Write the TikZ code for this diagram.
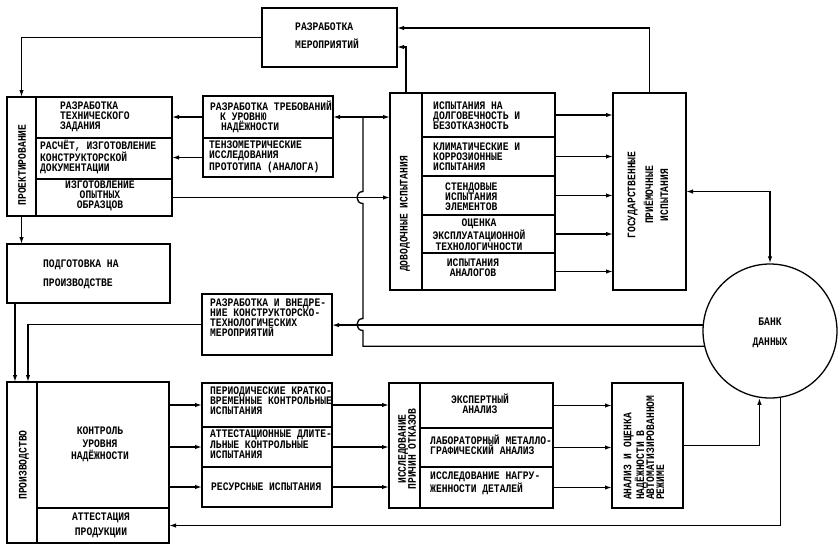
\documentclass[tikz,border=0pt]{standalone}
\usepackage{fontspec}
\newfontfamily\twfont[FakeStretch=0.84]{Liberation Mono}
\usetikzlibrary{arrows.meta,calc}
\newcommand\bx[5]{\node[bxs,minimum width={#4pt-#2pt},minimum height={#5pt-#3pt}] (#1) at (#2,#3) {};}
\begin{document}
\begin{tikzpicture}[x=1pt,y=-1pt,
  bxs/.style={draw,line width=1.3pt,inner sep=0pt,outer sep=0pt,anchor=north west},
  tx/.style={font={\twfont\bfseries\fontsize{11.5}{10}\selectfont},inner sep=0pt,align=left,anchor=west},
  tc/.style={tx,align=center,anchor=center},
  ln/.style={line width=1.3pt},
  ar/.style={ln,-{Latex[length=7pt,width=4.4pt]}},
  dar/.style={ln,{Latex[length=7pt,width=4.4pt]}-{Latex[length=7pt,width=4.4pt]}}]
\useasboundingbox[fill=white] (0,0) rectangle (840,550);
% boxes
\bx{mer}{262}{8}{397}{67}
\bx{projL}{7}{97}{36}{216}
\bx{pr1}{36}{97}{172}{138}
\bx{pr2}{36}{138}{172}{179}
\bx{pr3}{36}{179}{172}{216}
\bx{m1}{203}{96}{333}{138}
\bx{m2}{203}{138}{333}{177}
\bx{dovL}{390}{93}{422}{290}
\bx{d1}{422}{93}{555}{137}
\bx{d2}{422}{137}{555}{176}
\bx{d3}{422}{176}{555}{215}
\bx{d4}{422}{215}{555}{253}
\bx{d5}{422}{253}{555}{290}
\bx{gos}{613}{93}{686}{290}
\bx{podg}{7}{244}{170}{303}
\bx{rv}{202}{294}{332}{355}
\bx{prL}{7}{382}{37}{543}
\bx{p1}{37}{382}{169}{508}
\bx{p2}{37}{508}{169}{543}
\bx{b1}{202}{383}{332}{427}
\bx{b2}{202}{427}{332}{467}
\bx{b3}{202}{467}{332}{507}
\bx{iL}{389}{383}{420}{508}
\bx{i1}{420}{383}{553}{428}
\bx{i2}{420}{428}{553}{467}
\bx{i3}{420}{467}{553}{508}
\bx{anal}{612}{383}{683}{508}
\node[draw,circle,line width=1.3pt,minimum size=134pt,inner sep=0pt] (bank) at (770,331) {};
% texts
\node[tx] (tmer) at (295,36) {РАЗРАБОТКА\\[8pt]МЕРОПРИЯТИЙ};
\node[tc,rotate=90] (tproj) at (22,165) {ПРОЕКТИРОВАНИЕ};
\node[tx] (tpr1) at (60,117) {РАЗРАБОТКА\\ТЕХНИЧЕСКОГО\\ЗАДАНИЯ};
\node[tx] (tpr2) at (40,157) {РАСЧЁТ, ИЗГОТОВЛЕНИЕ\\КОНСТРУКТОРСКОЙ\\ДОКУМЕНТАЦИИ};
\node[tc] (tpr3) at (100,196) {ИЗГОТОВЛЕНИЕ\\ОПЫТНЫХ\\ОБРАЗЦОВ};
\node[tx] (tm1) at (210,117) {РАЗРАБОТКА ТРЕБОВАНИЙ\\\hspace*{10pt}К УРОВНЮ\\\hspace*{11pt}НАДЁЖНОСТИ};
\node[tx] (tm2) at (209,157) {ТЕНЗОМЕТРИЧЕСКИЕ\\ИССЛЕДОВАНИЯ\\ПРОТОТИПА (АНАЛОГА)};
\node[tc,rotate=90] (tdov) at (405,214) {ДОВОДОЧНЫЕ ИСПЫТАНИЯ};
\node[tx] (td1) at (433,116) {ИСПЫТАНИЯ НА\\ДОЛГОВЕЧНОСТЬ И\\БЕЗОТКАЗНОСТЬ};
\node[tx] (td2) at (433,157) {КЛИМАТИЧЕСКИЕ И\\КОРРОЗИОННЫЕ\\ИСПЫТАНИЯ};
\node[tx] (td3) at (445,197) {СТЕНДОВЫЕ\\ИСПЫТАНИЯ\\ЭЛЕМЕНТОВ};
\node[tc] (td4) at (479,235) {ОЦЕНКА\\ЭКСПЛУАТАЦИОННОЙ\\ТЕХНОЛОГИЧНОСТИ};
\node[tc] (td5) at (473,268) {ИСПЫТАНИЯ\\АНАЛОГОВ};
\node[tc,rotate=90] (tgos) at (648,195) {ГОСУДАРСТВЕННЫЕ\\[5pt]ПРИЁМОЧНЫЕ\\[5pt]ИСПЫТАНИЯ};
\node[tx] (tpodg) at (43,274.5) {ПОДГОТОВКА НА\\[9pt]ПРОИЗВОДСТВЕ};
\node[tx] (trv) at (210,318) {РАЗРАБОТКА И ВНЕДРЕ-\\НИЕ КОНСТРУКТОРСКО-\\ТЕХНОЛОГИЧЕСКИХ\\МЕРОПРИЯТИЙ};
\node[tc] (tbank) at (770,333) {БАНК\\[10pt]ДАННЫХ};
\node[tc,rotate=90] (tprL) at (24,465) {ПРОИЗВОДСТВО};
\node[tc] (tp1) at (100,444.5) {КОНТРОЛЬ\\[2.5pt]УРОВНЯ\\[2.5pt]НАДЁЖНОСТИ};
\node[tc] (tp2) at (101,525) {АТТЕСТАЦИЯ\\[4pt]ПРОДУКЦИИ};
\node[tx] (tb1) at (210,401) {ПЕРИОДИЧЕСКИЕ КРАТКО-\\ВРЕМЕННЫЕ КОНТРОЛЬНЫЕ\\ИСПЫТАНИЯ};
\node[tx] (tb2) at (210,444) {АТТЕСТАЦИОННЫЕ ДЛИТЕ-\\ЛЬНЫЕ КОНТРОЛЬНЫЕ\\ИСПЫТАНИЯ};
\node[tx] (tb3) at (211,487) {РЕСУРСНЫЕ ИСПЫТАНИЯ};
\node[tc,rotate=90] (tiL) at (407,449) {ИССЛЕДОВАНИЕ\\ПРИЧИН ОТКАЗОВ};
\node[tc] (ti1) at (480,404) {ЭКСПЕРТНЫЙ\\АНАЛИЗ};
\node[tx] (ti2) at (430,445) {ЛАБОРАТОРНЫЙ МЕТАЛЛО-\\ГРАФИЧЕСКИЙ АНАЛИЗ};
\node[tx] (ti3) at (430,483) {ИССЛЕДОВАНИЕ НАГРУ-\\ЖЕННОСТИ ДЕТАЛЕЙ};
\node[tx,rotate=90] (tan) at (644,500) {АНАЛИЗ И ОЦЕНКА\\НАДЁЖНОСТИ В\\АВТОМАТИЗИРОВАННОМ\\РЕЖИМЕ};
% connectors
\coordinate (jn) at (363,117);
\coordinate (h1) at (jn |- pr3.east);
\coordinate (h2) at (jn |- rv.east);
\coordinate (jb) at (jn |- bank.193);
\draw[ar] (mer.west) -| (projL.north);
\draw[ar] (m1.west) -- (m1.west -| pr1.east);
\draw[ar] (m2.west) -- (m2.west -| pr2.east);
\draw[dar] (m1.east) -- (m1.east -| dovL.west);
\draw[ln] (jn) -- ($(h1)+(0,-6)$) .. controls ($(h1)+(-8,-6)$) and ($(h1)+(-8,6)$) .. ($(h1)+(0,6)$)
  -- ($(h2)+(0,-6)$) .. controls ($(h2)+(-8,-6)$) and ($(h2)+(-8,6)$) .. ($(h2)+(0,6)$)
  -- (jb) -- (bank.193);
\draw[ar] (pr3.east) -- (pr3.east -| dovL.west);
\foreach \r in {d1,d2,d3,d4,d5} \draw[ar] (\r.east) -- (\r.east -| gos.west);
\draw[dar] (gos.east) -| (bank.north);
\draw[ar] (dovL.north) |- ($(mer.east)+(0,9.5)$);
\draw[ar] (gos.north) |- ($(mer.east)+(0,-9.5)$);
\draw[ar] (projL.south) -- (projL.south |- podg.north);
\coordinate (pd) at ($(podg.south west)+(8,0)$);
\draw[ar] (pd) -- (pd |- prL.north);
\coordinate (rvx) at ($(prL.north)+(6,0)$);
\draw[ar] (rv.west) -| (rvx);
\draw[ar] (bank.175) -- (bank.175 -| rv.east);
\foreach \r in {b1,b2,b3} {
  \draw[ar] (\r.west -| p1.east) -- (\r.west);
  \draw[ar] (\r.east) -- (\r.east -| iL.west);
}
\foreach \r in {i1,i2,i3} \draw[ar] (\r.east) -- (\r.east -| anal.west);
\draw[ar] (anal.east) -| (bank.261);
\draw[ar] (bank.279) |- (p2.east);
\end{tikzpicture}
\end{document}
